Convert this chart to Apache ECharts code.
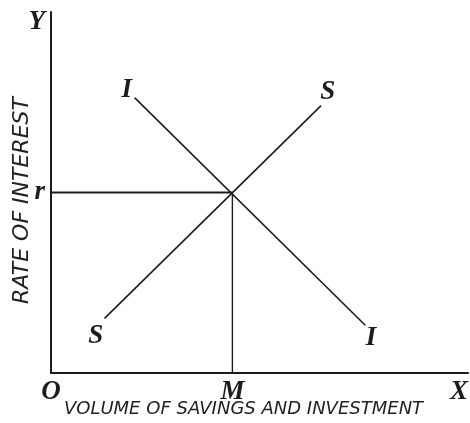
<!DOCTYPE html>
<html>
<head>
<meta charset="utf-8">
<script src="https://cdn.jsdelivr.net/npm/echarts@6/dist/echarts.min.js"></script>
<style>html,body{margin:0;padding:0;background:#fff}#c{width:470px;height:423px}</style>
</head>
<body>
<div id="c"></div>
<script>
// ---- data ----
const xTickValues = [0, 43.5, 100];
const xTickLabels = ['O', 'M', 'X'];
const yTickValues = [50, 100];
const yTickLabels = ['r', 'Y'];
const investmentCurve = [[20.1, 76.2], [75.3, 13.3]];
const investmentLabels = ['I', 'I'];
const savingsCurve = [[12.9, 15.2], [64.7, 74.0]];
const savingsLabels = ['S', 'S'];
const equilibrium = [43.5, 50];
const xAxisTitle = 'VOLUME OF SAVINGS AND INVESTMENT';
const yAxisTitle = 'RATE OF INTEREST';

// ---- styles ----
const ink = '#1c1c1c';
const letterFont = {fontFamily: 'Liberation Serif', fontStyle: 'italic', fontWeight: 'bold', fontSize: 27, color: ink};
const investOffsets = [[-8, -8], [6, 13]];
const savingsOffsets = [[-9, 18], [7, -14]];

function curveData(points, labels, offsets) {
  return points.map((p, i) => ({
    value: p,
    label: Object.assign({show: true, position: 'inside', offset: offsets[i], formatter: labels[i], align: 'center', verticalAlign: 'middle'}, letterFont)
  }));
}

const chart = echarts.init(document.getElementById('c'), null, {renderer: 'canvas'});
chart.setOption({
  backgroundColor: '#ffffff',
  animation: false,
  grid: {left: 51, top: 12, right: 2, bottom: 50, containLabel: false, outerBoundsMode: 'none'},
  xAxis: {
    type: 'value', min: 0, max: 100,
    splitLine: {show: false},
    axisTick: {show: false},
    axisLine: {lineStyle: {color: ink, width: 2}},
    axisLabel: Object.assign({
      customValues: xTickValues,
      formatter: v => xTickLabels[xTickValues.indexOf(v)] || '',
      margin: 6,
      alignMaxLabel: 'right'
    }, letterFont),
    name: xAxisTitle, nameLocation: 'middle', nameGap: 27, nameMoveOverlap: false,
    nameTextStyle: {fontFamily: 'DejaVu Sans', fontStyle: 'italic', fontSize: 18, color: '#222', padding: [0, 32, 0, 0]}
  },
  yAxis: {
    type: 'value', min: 0, max: 100,
    splitLine: {show: false},
    axisTick: {show: false},
    axisLine: {lineStyle: {color: ink, width: 2}},
    axisLabel: {
      customValues: yTickValues,
      formatter: v => '{' + (v === 100 ? 'top' : 'n') + '|' + (yTickLabels[yTickValues.indexOf(v)] || '') + '}',
      margin: 6,
      rich: {
        n: Object.assign({}, letterFont),
        top: Object.assign({padding: [20, 0, 0, 0]}, letterFont)
      }
    },
    name: yAxisTitle, nameLocation: 'middle', nameGap: 18, nameRotate: 90, nameMoveOverlap: false,
    nameTextStyle: {fontFamily: 'DejaVu Sans', fontStyle: 'italic', fontSize: 22, color: '#222', padding: [0, 16, 0, 0]}
  },
  series: [
    {
      type: 'line', data: curveData(investmentCurve, investmentLabels, investOffsets),
      symbol: 'circle', symbolSize: 1, itemStyle: {color: ink},
      lineStyle: {color: ink, width: 1.6}, silent: true
    },
    {
      type: 'line', data: curveData(savingsCurve, savingsLabels, savingsOffsets),
      symbol: 'circle', symbolSize: 1, itemStyle: {color: ink},
      lineStyle: {color: ink, width: 1.6}, silent: true
    },
    {
      type: 'line', data: [[0, equilibrium[1]], equilibrium],
      symbol: 'none', lineStyle: {color: ink, width: 1.8}, silent: true
    },
    {
      type: 'line', data: [equilibrium, [equilibrium[0], 0]],
      symbol: 'none', lineStyle: {color: ink, width: 1.4}, silent: true
    }
  ]
});
</script>
</body>
</html>
